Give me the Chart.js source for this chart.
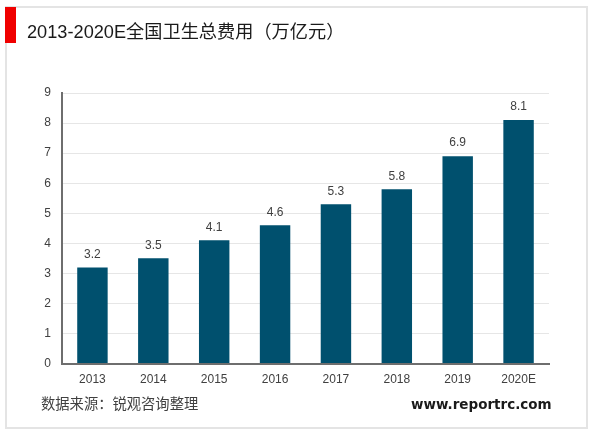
<!DOCTYPE html>
<html>
<head>
<meta charset="utf-8">
<script src="https://cdn.jsdelivr.net/npm/chart.js@4"></script>
<style>
  html, body { margin: 0; padding: 0; background: #fff; }
  #wrap { position: relative; width: 600px; height: 433px; overflow: hidden; font-family: "Liberation Sans", "Noto Sans CJK SC", sans-serif; }
  #chart { position: absolute; left: 0; top: 0; }
  #redbar { position: absolute; left: 5px; top: 7px; width: 11px; height: 36px; background: #f00000; }
  #title { position: absolute; left: 27px; top: 17px; font-size: 18.2px; color: #1a1a1a; white-space: nowrap; }
  #source { position: absolute; left: 41px; top: 392px; font-size: 14.3px; color: #404040; white-space: nowrap; }
  #site { position: absolute; left: 411px; top: 396px; font-size: 13.5px; font-weight: bold; color: #1a1a1a; white-space: nowrap; font-family: "DejaVu Sans", sans-serif; }
</style>
</head>
<body>
<div id="wrap">
  <canvas id="chart" width="600" height="433"></canvas>
  <div id="redbar"></div>
  <div id="title">2013-2020E全国卫生总费用（万亿元）</div>
  <div id="source">数据来源：锐观咨询整理</div>
  <div id="site">www.reportrc.com</div>
</div>
<script>
// ---------- DATA ----------
const years = ["2013", "2014", "2015", "2016", "2017", "2018", "2019", "2020E"];
const spending = [3.2, 3.5, 4.1, 4.6, 5.3, 5.8, 6.9, 8.1];

// ---------- PLUGINS ----------
const frame = {
  id: "frame",
  beforeDraw(chart) {
    const { ctx } = chart;
    ctx.save();
    ctx.strokeStyle = "#e4e4e4";
    ctx.lineWidth = 2;
    ctx.strokeRect(6, 7, 581, 421);
    ctx.restore();
  },
};

const barLabels = {
  id: "barLabels",
  afterDatasetsDraw(chart) {
    const { ctx } = chart;
    const bars = chart.getDatasetMeta(0).data;
    ctx.save();
    ctx.font = '12px "Liberation Sans", sans-serif';
    ctx.fillStyle = "#404040";
    ctx.textAlign = "center";
    ctx.textBaseline = "bottom";
    bars.forEach((b, i) => {
      ctx.fillText(spending[i].toFixed(1), b.x, b.y - 7);
    });
    ctx.restore();
  },
};

// ---------- CHART ----------
new Chart(document.getElementById("chart"), {
  type: "bar",
  data: {
    labels: years,
    datasets: [
      {
        data: spending,
        backgroundColor: "#00506e",
        barPercentage: 0.5,
        categoryPercentage: 1,
      },
    ],
  },
  options: {
    responsive: false,
    animation: false,
    layout: { padding: { left: 0, top: 93, right: 51, bottom: 45 } },
    plugins: { legend: { display: false }, tooltip: { enabled: false } },
    scales: {
      x: {
        grid: { display: false },
        border: { color: "#6e6e6e", width: 2 },
        ticks: { color: "#404040", font: { size: 12, family: "Liberation Sans" }, padding: 1, maxRotation: 0 },
      },
      y: {
        min: 0,
        max: 9,
        afterFit(axis) { axis.width = 62; },
        grid: { color: "#e6e6e6", lineWidth: 1, drawTicks: false },
        border: { color: "#6e6e6e", width: 2 },
        ticks: { stepSize: 1, color: "#404040", font: { size: 12, family: "Liberation Sans" }, padding: 11 },
      },
    },
  },
  plugins: [frame, barLabels],
});
</script>
</body>
</html>
